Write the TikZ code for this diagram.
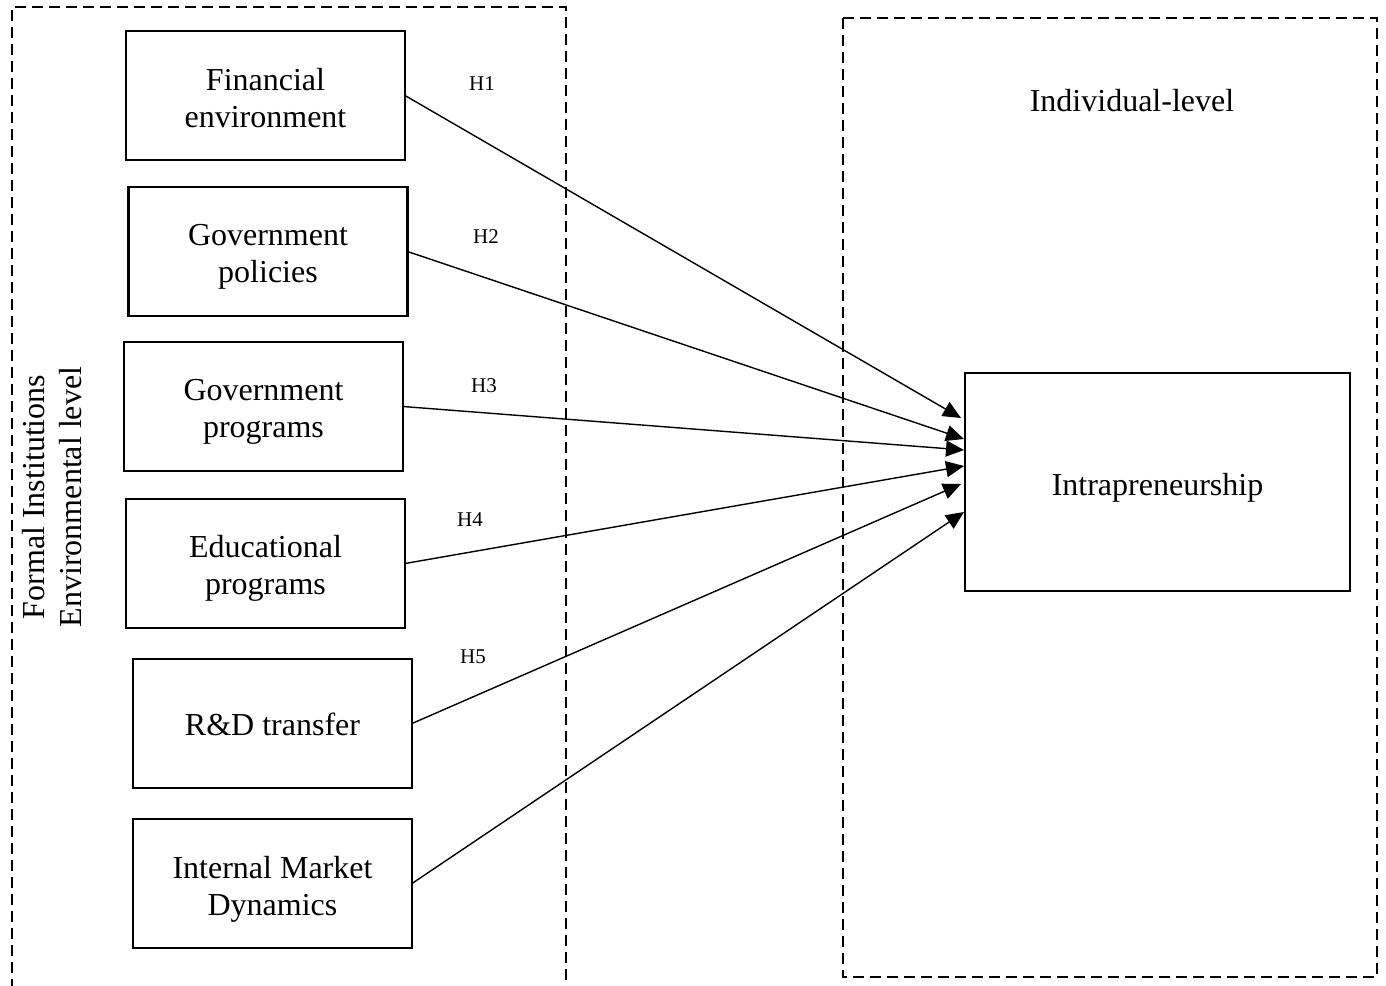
\documentclass[tikz,border=0pt]{standalone}
\usepackage{fontspec}
\setmainfont{Liberation Serif}
\usetikzlibrary{arrows.meta}
\begin{document}
\begin{tikzpicture}[x=1pt,y=-1pt,
  every node/.style={inner sep=0pt, outer sep=0pt},
  factor/.style={draw, line width=2.7pt, minimum width=279pt, minimum height=129pt},
  boxtext/.style={align=center, font=\fontsize{32}{37}\selectfont},
  region/.style={line width=2.7pt, dash pattern=on 11pt off 6pt},
  link/.style={line width=1.4pt, -{Triangle[length=18pt,width=16pt]}},
  hyp/.style={font=\fontsize{21}{24}\selectfont},
  bigtext/.style={font=\fontsize{32}{37}\selectfont, align=center}]
\useasboundingbox (0,0) rectangle (1386,985);

% environmental-level frame (open at the bottom) and individual-level frame
\draw[region] (12,990) -- (12,7) -- (566,7) -- (566,990);
\draw[region] (843,18) rectangle (1377,977);

% side label
\node[bigtext, rotate=90] (envlabel) at (52,497) {Formal Institutions\\Environmental level};
\node[bigtext] (indlabel) at (1132,101) {Individual-level};

% institutional factors
\node[factor] (fin) at (265.5,95.5) {};
\node[factor] (pol) at (268,251.5) {};
\node[factor] (prog) at (263.5,406.5) {};
\node[factor] (edu) at (265.5,563.5) {};
\node[factor] (rd) at (272.5,723.5) {};
\node[factor] (mkt) at (272.5,883.5) {};
\node[boxtext] (fintxt) at ([yshift=-3pt]fin.center) {Financial\\environment};
\node[boxtext] (poltxt) at ([yshift=-5pt]pol.center) {Government\\policies};
\node[boxtext] (progtxt) at ([yshift=-5pt]prog.center) {Government\\programs};
\node[boxtext] (edutxt) at ([yshift=-5pt]edu.center) {Educational\\programs};
\node[boxtext] (rdtxt) at ([yshift=-1pt]rd.center) {R\&D transfer};
\node[boxtext] (mkttxt) at ([yshift=-6pt]mkt.center) {Internal Market\\Dynamics};

% outcome
\node[draw, line width=2.7pt, minimum width=385pt, minimum height=218pt] (intra) at (1157.5,482) {};
\node[boxtext] (intratxt) at ([yshift=-6pt]intra.center) {Intrapreneurship};

% hypothesised paths
\draw[link] (fin.east) -- ([xshift=-4pt,yshift=64pt]intra.west);
\draw[link] (pol.east) -- ([xshift=-1pt,yshift=43pt]intra.west);
\draw[link] (prog.east) -- ([xshift=-1pt,yshift=32pt]intra.west);
\draw[link] (edu.east) -- ([xshift=-1pt,yshift=16pt]intra.west);
\draw[link] (rd.east) -- ([xshift=-4pt,yshift=-2pt]intra.west);
\draw[link] (mkt.east) -- ([xshift=-1pt,yshift=-30pt]intra.west);

% hypothesis labels
\node[hyp] (h1) at (482,84) {H1};
\node[hyp] (h2) at (486,237) {H2};
\node[hyp] (h3) at (484,386) {H3};
\node[hyp] (h4) at (470,520) {H4};
\node[hyp] (h5) at (473,657) {H5};
\end{tikzpicture}
\end{document}
